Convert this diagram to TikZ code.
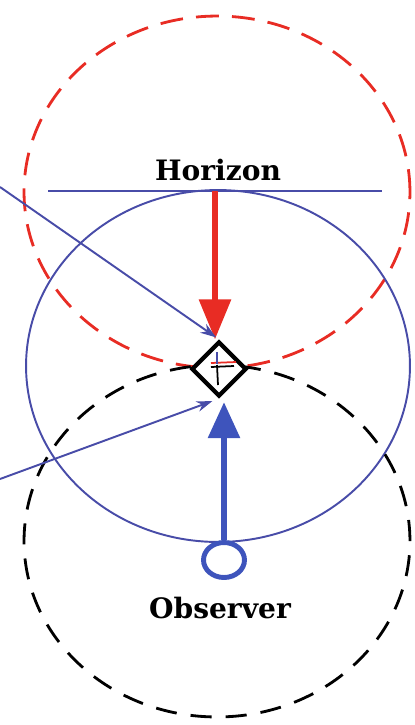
\documentclass[tikz,border=0pt]{standalone}
\usepackage{fontspec}
\setmainfont{DejaVu Serif}
\usetikzlibrary{shapes.geometric,arrows.meta}
\definecolor{skyblue}{RGB}{72,76,168}
\definecolor{arrowblue}{RGB}{62,84,188}
\definecolor{arrowred}{RGB}{232,44,36}
\tikzset{
  label text/.style={font=\fontsize{16}{19}\selectfont\bfseries},
  thin ray/.style={skyblue, line width=1.1pt, -{Stealth[length=9pt,width=6pt]}},
}
\begin{document}
\begin{tikzpicture}[x=0.02cm, y=-0.02cm]
        \useasboundingbox (0,0) rectangle (415,725);
        % the three circles
        \draw[arrowred, line width=1.6pt, dash pattern=on 13pt off 7.5pt] (217,192) ellipse [x radius=3.86cm, y radius=3.52cm];
        \draw[skyblue, line width=1.1pt] (218,366) ellipse [x radius=3.84cm, y radius=3.52cm];
        \draw[black, line width=1.6pt, dash pattern=on 12pt off 8pt] (217,541) ellipse [x radius=3.86cm, y radius=3.52cm];
        % horizon line and labels
        \draw[skyblue, line width=1.1pt] (48,191) -- (382,191);
        \node[label text] (horizon) at (218,170) {Horizon};
        \node[label text] (observer) at (220,608) {Observer};
        % the point looked at
        \node[diamond, draw, line width=2.4pt, minimum width=1.1cm, minimum height=1.1cm, inner sep=0pt, fill=white] (target) at (219,369) {};
        \draw[black, line width=1pt] (217,365) -- (218,385);
        \draw[black, line width=1pt] (211,367) -- (234,366);
        \draw[arrowred, line width=1pt] (211,363) -- (236,362);
        \draw[skyblue, line width=1pt] (217,352) -- (217,364);
        % the observer
        \node[ellipse, draw=arrowblue, line width=2.8pt, minimum width=0.82cm, minimum height=0.70cm, inner sep=0pt] (eye) at (224,560) {};
        \coordinate (zenith) at (215,191);
        \coordinate (ray1) at (0,187);
        \coordinate (ray2) at (0,479);
        % the arrows
        \draw[arrowred, line width=3.4pt, -{Triangle[length=0.8cm,width=0.62cm]}] (zenith) -- (zenith |- target.north);
        \draw[arrowblue, line width=3.4pt, -{Triangle[length=0.72cm,width=0.62cm]}] (eye.north) -- ([yshift=-2pt]eye.north |- target.south);
        \draw[thin ray, shorten >=2pt] (ray1) -- (target.north);
        \draw[thin ray, shorten >=4pt] (ray2) -- (target.south);
\end{tikzpicture}
\end{document}
